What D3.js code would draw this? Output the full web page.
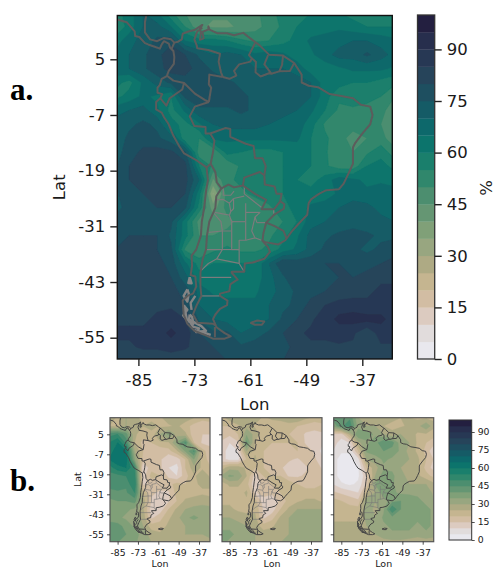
<!DOCTYPE html>
<html>
<head>
<meta charset="utf-8">
<script src="https://cdn.jsdelivr.net/npm/d3@7"></script>
<style>
  html, body { margin: 0; padding: 0; background: #fff; }
  svg { display: block; }
  text { font-family: "DejaVu Sans", sans-serif; fill: #1a1a1a; }
  .letter { font-family: "Liberation Serif", serif; font-weight: bold; font-size: 31px; fill: #000; }
</style>
</head>
<body>
<svg width="495" height="570"></svg>
<script>
(function() {
  // grid axes of the fields
  var mainLons = d3.range(-90, -29, 3);
  var mainLats = d3.range(15, -61, -3);
  var smallLons = d3.range(-90, -29, 5);
  var smallLats = d3.range(15, -61, -5);

  var lonTicks = [-85, -73, -61, -49, -37];
  var latTicks = [5, -7, -19, -31, -43, -55];
  var barTicks = [0, 15, 30, 45, 60, 75, 90];
  var levels = d3.range(0, 100, 5);
  var bandColors = ["#e9e8ee", "#e1dcdc", "#dccbc0", "#d2bda3", "#c5b590", "#aeaa84", "#98a680", "#80a078",
    "#659673", "#4c8e6f", "#30876c", "#1a7f6c", "#0c746c", "#0d686b", "#155b66", "#1e4f60",
    "#26445a", "#273854", "#272e4d", "#231f40"];

  var mainField = [
    [58,62,70,65,56,50,48,46,46,45,48,54,56,58,60,62,60,58,58,58,58],
    [55,62,70,72,65,55,46,44,44,46,48,52,56,60,62,64,64,62,60,60,60],
    [62,68,72,76,78,65,62,62,60,56,54,55,58,62,66,66,68,70,70,68,66],
    [66,70,74,78,84,80,74,70,72,70,66,68,66,62,64,68,72,72,76,72,68],
    [68,70,74,78,82,82,78,74,72,72,70,70,70,68,62,62,64,66,66,66,64],
    [62,58,66,72,76,78,80,78,76,74,72,74,72,72,70,62,62,60,60,58,56],
    [58,62,66,64,60,76,78,78,78,76,74,72,74,74,70,62,56,58,56,55,50],
    [68,70,72,66,58,66,74,74,74,76,74,72,72,70,66,60,54,54,54,52,46],
    [72,74,76,74,62,58,64,70,72,72,72,70,68,68,62,54,52,52,52,50,44],
    [72,76,78,76,72,56,55,66,66,66,66,66,66,66,60,56,52,48,50,52,46],
    [72,78,81,82,81,76,52,50,62,60,58,58,60,62,60,56,50,50,54,58,52],
    [74,80,82,83,83,82,60,54,50,56,56,58,60,62,60,56,52,52,60,62,58],
    [74,80,82,83,83,82,70,44,54,56,58,58,60,60,58,62,68,66,64,64,64],
    [74,78,80,82,82,80,62,34,52,54,56,58,60,62,62,62,66,68,66,68,66],
    [74,76,78,80,80,76,58,42,52,52,52,54,58,62,66,68,70,72,72,68,66],
    [76,78,78,78,76,62,48,48,48,52,52,52,55,60,68,70,72,74,72,72,70],
    [78,80,80,80,74,62,50,50,52,52,52,54,58,64,72,74,76,76,76,74,74],
    [80,80,82,80,76,54,50,54,56,54,54,56,62,66,72,76,78,76,74,76,78],
    [82,82,82,82,78,66,58,60,60,60,60,70,80,78,78,80,80,78,78,80,82],
    [84,84,84,84,80,72,62,62,60,60,62,68,74,80,78,78,80,80,82,84,84],
    [84,84,84,84,82,78,68,64,62,64,64,68,72,76,78,80,80,82,84,86,86],
    [84,84,84,84,84,80,70,68,68,66,66,70,74,76,82,85,88,88,86,88,88],
    [84,84,84,86,88,85,74,70,68,66,68,70,76,80,84,88,91,92,92,91,88],
    [86,86,86,88,91,88,80,76,76,70,72,76,80,84,86,86,88,86,80,88,88],
    [84,84,86,86,88,86,82,80,78,76,78,78,78,82,84,84,84,84,84,84,84],
    [80,80,80,80,80,80,80,80,80,80,80,80,80,80,80,80,80,80,80,80,80]
  ];

  var leftField = [
    [28,24,30,28,22,22,24,28,30,28,25,22,22],
    [25,22,30,28,25,28,24,24,26,22,18,16,18],
    [48,50,42,26,22,22,30,36,28,26,16,15,15],
    [55,60,48,25,18,20,24,24,36,46,20,14,14],
    [58,62,60,30,20,16,16,18,24,36,46,22,16],
    [60,64,62,35,18,20,16,10,12,20,35,22,18],
    [52,58,60,50,10,18,16,10,8,20,28,24,20],
    [48,48,50,52,12,22,20,14,10,18,24,28,24],
    [46,48,46,55,14,16,18,18,22,20,24,26,26],
    [44,44,44,50,24,16,14,14,22,22,24,24,24],
    [38,40,40,42,28,14,12,14,20,26,26,28,26],
    [36,38,36,34,26,12,12,20,26,30,32,32,32],
    [38,36,34,34,28,14,18,24,28,34,36,34,34],
    [42,42,38,34,30,22,22,26,28,30,32,32,34],
    [44,44,40,38,32,28,26,28,28,30,30,30,32],
    [40,40,38,36,32,30,28,28,28,28,28,28,28]
  ];

  var middleField = [
    [22,28,30,30,28,24,26,28,30,30,26,24,24],
    [20,20,24,28,24,24,22,20,22,20,18,16,18],
    [18,16,20,34,28,22,20,22,20,18,14,14,14],
    [14,10,14,42,24,20,20,20,20,20,14,12,10],
    [12,8,10,30,24,20,18,16,18,20,18,14,8],
    [12,8,8,20,26,20,18,16,16,14,18,16,10],
    [22,28,28,24,20,20,18,16,12,12,14,18,14],
    [30,36,34,25,12,20,20,20,14,14,16,18,16],
    [22,26,26,22,10,18,20,22,24,20,18,18,20],
    [22,22,22,26,14,18,16,20,22,24,22,22,22],
    [24,24,24,24,22,12,12,16,22,24,26,26,24],
    [26,26,24,24,24,14,12,20,26,30,30,30,30],
    [30,30,28,26,26,14,18,26,30,32,32,32,32],
    [34,34,32,30,28,22,24,28,30,32,32,34,34],
    [36,36,34,32,30,28,28,28,30,30,32,32,34],
    [36,34,34,32,30,28,28,30,30,30,30,30,30]
  ];

  var rightField = [
    [42,44,44,30,26,26,25,26,25,25,24,24,24],
    [36,44,48,32,30,30,25,24,24,26,28,34,26],
    [14,12,26,40,38,34,30,26,30,28,24,24,22],
    [12,8,10,28,34,38,44,42,32,30,24,20,16],
    [10,6,6,20,36,38,40,38,34,28,24,18,10],
    [8,2,2,8,30,32,36,34,34,30,26,20,14],
    [8,2,2,4,20,28,34,34,30,28,26,18,12],
    [8,2,2,4,14,30,38,36,32,28,26,22,18],
    [10,6,4,6,16,35,38,36,30,30,30,30,26],
    [16,14,12,10,24,30,38,36,34,34,34,34,28],
    [22,20,18,16,34,30,32,38,40,38,36,34,30],
    [24,24,22,22,34,28,34,50,40,38,36,36,34],
    [24,24,24,24,32,30,36,38,38,36,36,36,34],
    [26,26,26,26,30,30,34,36,36,36,34,36,34],
    [26,26,26,26,28,30,32,34,34,34,32,34,32],
    [26,26,26,26,26,28,28,28,28,26,26,26,26]
  ];

  // coast and island outlines, [lon, lat]
  var coastLines = [
    [[-91,14],[-87.5,13],[-85.8,11],[-85.7,10],[-84.8,9.8],[-83.6,8.5],[-82.9,8.2],[-81.5,7.7],[-80.4,7.3],[-80,8.2],[-79.5,8.9],[-78.5,8.4],[-78.2,7.5],[-77.5,6.8],[-77.3,5.5],[-77.4,4],[-78.5,2.5],[-78.9,1.4],[-80,0.8],[-80.4,-0.5],[-80.9,-1.1],[-80.9,-2.2],[-79.9,-2.5],[-80.3,-3.4],[-81.2,-4.2],[-81.2,-5.8],[-80,-6.5],[-79.5,-7.5],[-78.5,-9],[-77.5,-11.5],[-76.2,-13.8],[-75.2,-15.3],[-72.5,-16.8],[-70.4,-18.3],[-70.1,-21],[-70.5,-23.5],[-70.9,-27],[-71.4,-30],[-71.6,-33],[-72.6,-36],[-73.6,-37.3],[-73.5,-39.5],[-73.8,-41.5],[-72.8,-41.8],[-72.6,-44],[-73.3,-45.5],[-74.5,-46],[-75.5,-47],[-75.3,-50],[-74.5,-52],[-73,-53.5],[-71,-54.3],[-69,-55.2],[-66.5,-55.2],[-65.2,-54.7],[-66.5,-54],[-68.2,-52.8],[-68.4,-52.4],[-69,-51],[-68.5,-50],[-67.5,-48.8],[-66,-48],[-65.9,-47],[-67.5,-46],[-67.5,-45.5],[-65.5,-45],[-65.3,-43.5],[-64.3,-42.8],[-63.7,-42.5],[-65,-41],[-65,-40.8],[-62.3,-40.8],[-62.2,-39],[-60.5,-38.8],[-58,-38],[-56.8,-36.5],[-57.2,-35.5],[-58.4,-34.1],[-57.8,-34.4],[-55,-34.9],[-53.5,-34],[-52.2,-32.2],[-50.7,-30.5],[-48.8,-28.5],[-48.5,-26],[-48,-25.2],[-46.3,-24],[-44.7,-23.2],[-42,-23],[-41,-21.8],[-40,-19.7],[-39,-17.5],[-39,-14],[-38.5,-13],[-37,-11],[-35.3,-9],[-34.8,-7],[-35.3,-5.2],[-37.3,-4.8],[-39,-3.4],[-41.5,-2.9],[-44,-2.5],[-46.5,-1],[-48.5,-0.7],[-50,0],[-50,1.7],[-51.6,4.2],[-54,5.8],[-57,6],[-59,8],[-61,9.5],[-62.5,10.7],[-64.5,10.2],[-66,10.6],[-68,10.6],[-70,11.5],[-70,12.1],[-69.8,11.5],[-71.3,10.9],[-71,9.5],[-71.8,9.2],[-71.6,10.8],[-71.8,11.6],[-71.3,12.4],[-73,11.3],[-74.3,11],[-75.5,10.5],[-75.7,9.3],[-76.5,8.8],[-77.3,8.6],[-78,9.3],[-79.5,9.6],[-81,8.9],[-82.5,9.3],[-83.6,10.8],[-83.6,13],[-83.2,15]],
    [[-61,-51.8],[-59.5,-51.3],[-58,-51.5],[-58.5,-52.2],[-60,-52.2],[-61,-51.8]]
  ];

  var borderLines = [
    [[-77.3,8.6],[-77.9,7.2]],
    [[-71.3,11.8],[-72.4,11],[-73,9.3],[-72.5,8],[-72.4,7.4],[-70,7],[-67.5,6.2],[-67.8,4.5],[-67.3,2.2],[-66.9,1.2]],
    [[-66.9,1.2],[-65.5,0.8],[-64,1.5],[-64.5,2.5],[-63.4,3.9],[-61,4.5],[-60.7,5.2],[-61.3,5.9],[-60,8.5]],
    [[-60.7,5.2],[-59.8,4.4],[-59.9,2.2],[-58.8,1.3],[-57,2],[-56.5,1.9],[-58,3.9],[-57.2,5.9]],
    [[-56.5,1.9],[-54.8,2.4],[-54.2,3.8],[-54,5.8]],
    [[-54.8,2.4],[-52.5,2.5],[-51.6,4.2]],
    [[-66.9,1.2],[-69.8,1.7],[-69.9,-0.4],[-69.4,-1.1],[-69.9,-4.2]],
    [[-69.9,-4.2],[-70.7,-3.8],[-72.9,-2.4],[-75.2,-0.1],[-77.5,0.4],[-78.8,1.4]],
    [[-75.2,-0.1],[-75.6,-1.5],[-78.3,-3.4],[-79,-5],[-80.3,-3.4]],
    [[-69.9,-4.2],[-72.9,-5.2],[-74,-7.3],[-73,-9.4],[-70.6,-9.6],[-70.6,-11],[-69.6,-11]],
    [[-69.6,-11],[-66.3,-9.8],[-65.3,-10],[-65.3,-11.7],[-62,-13.2],[-60.3,-13.7],[-60,-16.3],[-58.4,-16.3],[-57.7,-18],[-58,-20]],
    [[-69.6,-11],[-68.7,-12.5],[-69,-15],[-69.3,-16.5],[-69.5,-17.5],[-70.4,-18.3]],
    [[-69.5,-17.5],[-68.5,-19.3],[-68.2,-21.5],[-67.2,-22.8],[-65.7,-22],[-64.5,-22.6],[-62.6,-22.2],[-62.3,-20.5],[-59,-19.3],[-58,-20]],
    [[-58,-20],[-57.9,-22],[-55.8,-22.4],[-55.4,-24],[-54.3,-24],[-54.6,-25.6]],
    [[-62.6,-22.2],[-60,-24],[-57.6,-25.3],[-58.6,-27.3],[-55.9,-27.3],[-54.6,-25.6]],
    [[-54.6,-25.6],[-53.7,-26.2],[-53.8,-27.2],[-55.8,-28.4],[-57.6,-30.2],[-55.9,-30.9],[-53.9,-32],[-53.2,-33.7]],
    [[-57.6,-30.2],[-58.2,-32.5],[-58.4,-34.1]],
    [[-67.2,-22.8],[-68.3,-24.5],[-68.5,-27],[-69.8,-30],[-70.3,-33],[-70.5,-36],[-71.2,-38],[-71.7,-41],[-71.7,-44],[-71.5,-46],[-72.5,-48],[-73.3,-50],[-72.3,-51.8],[-69,-52],[-68.4,-52.4]],
    [[-68.6,-52.7],[-68.6,-54.9]]
  ];

  // argentine provinces, thin grey
  var provinceLines = [
    [[-66.8,-22.6],[-66.8,-24.3],[-65.2,-24.3],[-64.5,-23.4]],
    [[-68.4,-25.3],[-66.8,-25.2],[-65.5,-26],[-64.6,-25]],
    [[-62.3,-22.3],[-62.3,-24],[-58.5,-27]],
    [[-64.6,-25],[-62.3,-24.5]],
    [[-65.5,-26],[-65.2,-27.8],[-64.6,-27.2],[-64.6,-25]],
    [[-68.6,-28],[-65.5,-28.6],[-65,-30]],
    [[-68.8,-28.2],[-67.3,-30],[-67,-32]],
    [[-65.2,-27.8],[-65.5,-28.6]],
    [[-62,-26],[-62,-34],[-63.4,-34],[-63.4,-39],[-62.3,-40.8]],
    [[-65,-30],[-62,-30]],
    [[-65,-30],[-65,-36],[-63.4,-36]],
    [[-70,-32.3],[-67,-32],[-65,-32]],
    [[-67,-32],[-67,-36],[-70.5,-36]],
    [[-67,-36],[-65,-36]],
    [[-67,-36],[-68.2,-38],[-63.4,-39]],
    [[-68.2,-38],[-70,-39],[-71.5,-40.5]],
    [[-71.7,-42],[-65.1,-42]],
    [[-71.5,-46],[-67.6,-46]],
    [[-62,-28],[-58.9,-28]],
    [[-60,-29],[-60.7,-32],[-60,-33.5],[-58.6,-34]],
    [[-59.6,-30.2],[-57.7,-30.2]],
    [[-59.6,-30.2],[-60,-29],[-58.9,-28]],
    [[-62,-34],[-60,-33.5]],
    [[-56,-27.4],[-56,-28.3]]
  ];

  // chilean fjords, islands and tierra del fuego
  var fjordLines = [
    [[-74,-42],[-73.6,-43.3],[-74.3,-43.2],[-74,-42]],
    [[-74.5,-44.6],[-75.3,-46],[-74.5,-47.2],[-74.2,-45.5],[-74.5,-44.6]],
    [[-75.3,-48],[-74.5,-49],[-75.4,-50.2],[-74.6,-51.2],[-75.2,-48]],
    [[-74.3,-51],[-73.3,-52.6],[-72,-53],[-72.6,-53.8],[-70.5,-53.5],[-71.5,-52.5],[-74.3,-51]],
    [[-74,-50],[-74.2,-51.5],[-73.2,-52],[-73.5,-50.5],[-74,-50]],
    [[-72.8,-46],[-73.8,-47.5],[-73.6,-49]],
    [[-73,-53.4],[-71,-53.9],[-69.5,-54.4]]
  ];

  var svg = d3.select("svg");
  var defs = svg.append("defs");

  // the source picture is a rescaled raster, so the maps are a little soft
  defs.append("filter").attr("id", "soft")
    .attr("x", "-5%").attr("y", "-5%").attr("width", "110%").attr("height", "110%")
    .append("feGaussianBlur").attr("stdDeviation", 0.6);

  var bandColor = d3.scaleOrdinal().domain(levels).range(bandColors);

  function drawMap(id, field, lons, lats, box, opts) {
    var x = d3.scaleLinear().domain(box.lonRef).range(box.xRef);
    var y = d3.scaleLinear().domain(box.latRef).range(box.yRef);

    var nx = lons.length, ny = lats.length;
    var gx = d3.scaleLinear().domain([0.5, nx - 0.5]).range([x(lons[0]), x(lons[nx - 1])]);
    var gy = d3.scaleLinear().domain([0.5, ny - 0.5]).range([y(lats[0]), y(lats[ny - 1])]);

    var gridPath = d3.geoPath(d3.geoTransform({
      point: function(a, b) { this.stream.point(gx(a), gy(b)); }
    }));

    var contours = d3.contours()
      .size([nx, ny])
      .thresholds(levels)
      (d3.merge(field));

    defs.append("clipPath").attr("id", "clip" + id)
      .append("rect")
        .attr("x", box.left).attr("y", box.top)
        .attr("width", box.right - box.left).attr("height", box.bottom - box.top);

    var g = svg.append("g").attr("clip-path", "url(#clip" + id + ")");
    var soft = g.append("g").attr("filter", "url(#soft)");

    soft.selectAll("path.band")
      .data(contours)
      .enter().append("path")
        .attr("class", "band")
        .attr("d", gridPath)
        .attr("fill", function(d) { return bandColor(d.value); })
        .attr("stroke", function(d) { return bandColor(d.value); })
        .attr("stroke-width", 0.4);

    var line = d3.line()
      .x(function(d) { return x(d[0]); })
      .y(function(d) { return y(d[1]); });

    function lines(data, color, width) {
      soft.append("g").selectAll("path")
        .data(data)
        .enter().append("path")
          .attr("d", line)
          .attr("fill", "none")
          .attr("stroke", color)
          .attr("stroke-width", width)
          .attr("stroke-linejoin", "round");
    }
    lines(provinceLines, opts.provinceColor, opts.provinceWidth);
    lines(fjordLines, opts.fjordColor, opts.fjordWidth);
    lines(borderLines, opts.lineColor, opts.lineWidth);
    lines(coastLines, opts.lineColor, opts.lineWidth);

    // spines
    svg.append("rect")
      .attr("x", box.left).attr("y", box.top)
      .attr("width", box.right - box.left).attr("height", box.bottom - box.top)
      .attr("fill", "none")
      .attr("stroke", opts.spine)
      .attr("stroke-width", opts.spineWidth);

    var xAxis = d3.axisBottom(x).tickValues(lonTicks).tickSize(opts.tick).tickPadding(opts.padX)
      .tickFormat(function(d) { return String(d); });
    var yAxis = d3.axisLeft(y).tickValues(latTicks).tickSize(opts.tick).tickPadding(opts.padY)
      .tickFormat(function(d) { return String(d); });

    var ax = svg.append("g").attr("transform", "translate(0," + box.bottom + ")").call(xAxis);
    var ay = svg.append("g").attr("transform", "translate(" + box.left + ",0)").call(yAxis);
    [ax, ay].forEach(function(a) {
      a.select(".domain").remove();
      a.selectAll("line").attr("stroke", "#222").attr("stroke-width", opts.tickWidth);
      a.selectAll("text").style("font-size", opts.font + "px").attr("font-family", null);
    });
    if (!opts.labels) ay.selectAll("text").remove();

    svg.append("text")
      .attr("x", (box.left + box.right) / 2).attr("y", box.labelY)
      .attr("text-anchor", "middle")
      .style("font-size", opts.labelFont + "px")
      .text("Lon");
    if (opts.labels) {
      svg.append("text")
        .attr("transform", "translate(" + box.latX + "," + (box.top + box.bottom) / 2 + ") rotate(-90)")
        .attr("text-anchor", "middle")
        .style("font-size", opts.labelFont + "px")
        .text("Lat");
    }
  }

  function drawBar(box, opts) {
    var y = d3.scaleLinear().domain([0, 100]).range([box.bottom, box.top]);
    svg.append("g").selectAll("rect")
      .data(levels)
      .enter().append("rect")
        .attr("x", box.left)
        .attr("width", box.right - box.left)
        .attr("y", function(d) { return y(d + 5); })
        .attr("height", function(d) { return y(d) - y(d + 5) + 0.3; })
        .attr("fill", function(d) { return bandColor(d); });
    svg.append("rect")
      .attr("x", box.left).attr("y", box.top)
      .attr("width", box.right - box.left).attr("height", box.bottom - box.top)
      .attr("fill", "none").attr("stroke", "#333").attr("stroke-width", opts.spineWidth);
    var a = svg.append("g").attr("transform", "translate(" + box.right + ",0)")
      .call(d3.axisRight(y).tickValues(barTicks).tickSize(opts.tick).tickPadding(opts.pad));
    a.select(".domain").remove();
    a.selectAll("line").attr("stroke", "#222").attr("stroke-width", opts.tickWidth);
    a.selectAll("text").style("font-size", opts.font + "px").attr("font-family", null);
  }

  var mainOpts = {
    lineColor: "#5c5c5c", lineWidth: 2, provinceColor: "#7b7b7b", provinceWidth: 1.2,
    fjordColor: "#858585", fjordWidth: 2.4,
    spine: "#111", spineWidth: 1.4, tick: 7, tickWidth: 1.4, padX: 8, padY: 5, font: 16.5, labelFont: 16.5, labels: true
  };
  var smallOpts = {
    lineColor: "#454545", lineWidth: 1, provinceColor: "#777", provinceWidth: 0.6,
    fjordColor: "#4a4a4a", fjordWidth: 1,
    spine: "#555", spineWidth: 1.2, tick: 3, tickWidth: 0.8, padX: 5, padY: 3, font: 9.3, labelFont: 9.5, labels: true
  };

  drawMap("Main", mainField, mainLons, mainLats, {
    left: 117.3, right: 392.3, top: 15.5, bottom: 359,
    lonRef: [-85, -37], xRef: [138.4, 362.3],
    latRef: [5, -55], yRef: [59.3, 337.7],
    labelY: 410, latX: 65
  }, mainOpts);

  function smallBox(left, latX) {
    return {
      left: left, right: left + 100, top: 417.7, bottom: 541.7,
      lonRef: [-85, -37], xRef: [left + 7.6, left + 89],
      latRef: [5, -55], yRef: [434.3, 534.3],
      labelY: 567, latX: latX
    };
  }
  drawMap("A", leftField, smallLons, smallLats, smallBox(110, 81), smallOpts);
  var noLabels = Object.assign({}, smallOpts, { labels: false });
  drawMap("B", middleField, smallLons, smallLats, smallBox(222, 0), noLabels);
  drawMap("C", rightField, smallLons, smallLats, smallBox(333.7, 0), noLabels);

  drawBar({ left: 417.5, right: 434.7, top: 15, bottom: 359 },
    { spineWidth: 1.3, tick: 7, tickWidth: 1.4, pad: 5, font: 16.5 });
  drawBar({ left: 449, right: 471.7, top: 420, bottom: 540 },
    { spineWidth: 1, tick: 3, tickWidth: 0.8, pad: 3, font: 9.3 });

  svg.append("text")
    .attr("transform", "translate(492,188) rotate(-90)")
    .attr("text-anchor", "middle")
    .style("font-size", "16.5px")
    .text("%");

  svg.append("text").attr("class", "letter").attr("x", 10).attr("y", 100).text("a.");
  svg.append("text").attr("class", "letter").attr("x", 10).attr("y", 491).text("b.");
})();
</script>
</body>
</html>
